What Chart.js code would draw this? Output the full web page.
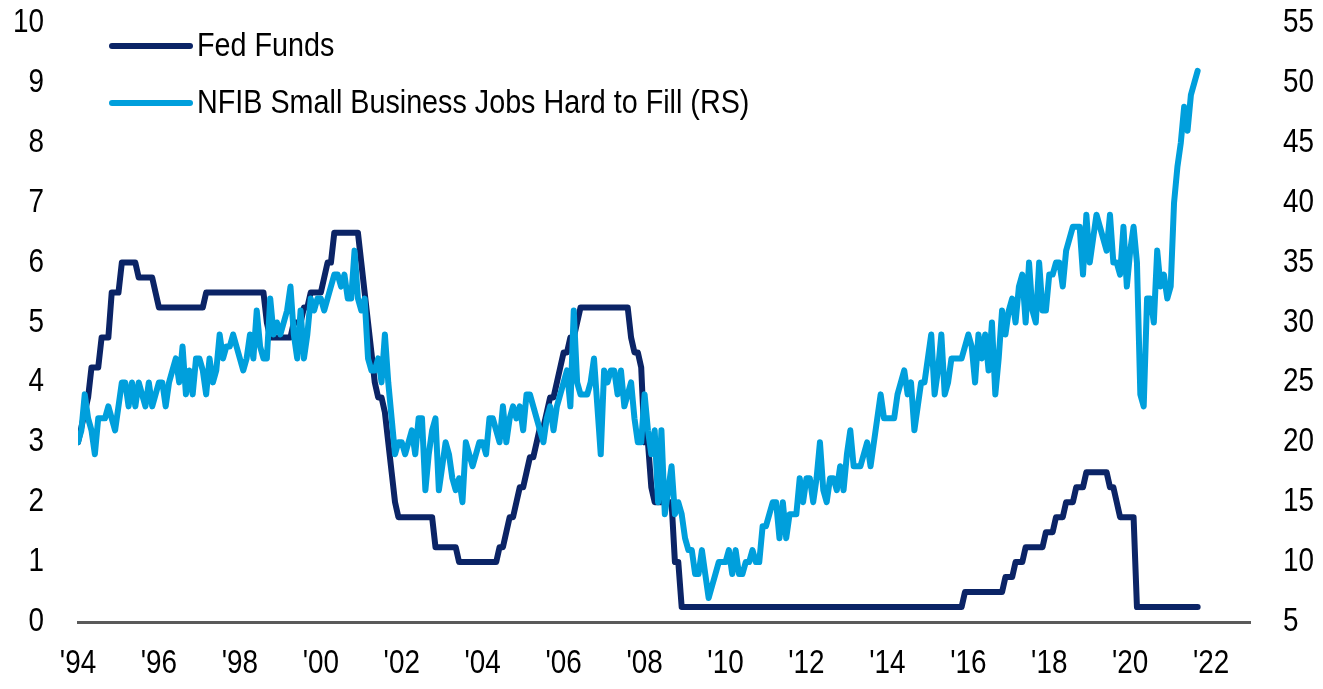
<!DOCTYPE html>
<html><head><meta charset="utf-8">
<script src="https://cdn.jsdelivr.net/npm/chart.js@4.4.1/dist/chart.umd.min.js"></script>
<style>html,body{margin:0;padding:0;background:#fff;}canvas{display:block;}</style>
</head><body>
<canvas id="c" width="1323" height="689"></canvas>
<script>
// ---- data (monthly, Jan 1994 .. Sep 2021) ----
const startYear = 1994;
const tickYears = [1994,1996,1998,2000,2002,2004,2006,2008,2010,2012,2014,2016,2018,2020,2022];
const leftTicks = [0,1,2,3,4,5,6,7,8,9,10];
const rightTicks = [5,10,15,20,25,30,35,40,45,50,55];
const seriesLabels = ['Fed Funds', 'NFIB Small Business Jobs Hard to Fill (RS)'];

const fedFunds = [
 3.00,3.25,3.50,3.75,4.25,4.25,4.25,4.75,4.75,4.75,5.50,5.50, // 1994
 5.50,6.00,6.00,6.00,6.00,6.00,5.75,5.75,5.75,5.75,5.75,5.50, // 1995
 5.25,5.25,5.25,5.25,5.25,5.25,5.25,5.25,5.25,5.25,5.25,5.25, // 1996
 5.25,5.25,5.50,5.50,5.50,5.50,5.50,5.50,5.50,5.50,5.50,5.50, // 1997
 5.50,5.50,5.50,5.50,5.50,5.50,5.50,5.50,5.00,4.75,4.75,4.75, // 1998
 4.75,4.75,4.75,4.75,5.00,5.00,5.00,5.25,5.25,5.50,5.50,5.50, // 1999
 5.50,5.75,6.00,6.00,6.50,6.50,6.50,6.50,6.50,6.50,6.50,6.50, // 2000
 6.00,5.50,5.00,4.50,4.00,3.75,3.75,3.50,3.00,2.50,2.00,1.75, // 2001
 1.75,1.75,1.75,1.75,1.75,1.75,1.75,1.75,1.75,1.75,1.25,1.25, // 2002
 1.25,1.25,1.25,1.25,1.25,1.00,1.00,1.00,1.00,1.00,1.00,1.00, // 2003
 1.00,1.00,1.00,1.00,1.00,1.25,1.25,1.50,1.75,1.75,2.00,2.25, // 2004
 2.25,2.50,2.75,2.75,3.00,3.25,3.25,3.50,3.75,3.75,4.00,4.25, // 2005
 4.50,4.50,4.75,4.75,5.00,5.25,5.25,5.25,5.25,5.25,5.25,5.25, // 2006
 5.25,5.25,5.25,5.25,5.25,5.25,5.25,5.25,4.75,4.50,4.50,4.25, // 2007
 3.00,3.00,2.25,2.00,2.00,2.00,2.00,2.00,2.00,1.00,1.00,0.25, // 2008
 0.25,0.25,0.25,0.25,0.25,0.25,0.25,0.25,0.25,0.25,0.25,0.25, // 2009
 0.25,0.25,0.25,0.25,0.25,0.25,0.25,0.25,0.25,0.25,0.25,0.25, // 2010
 0.25,0.25,0.25,0.25,0.25,0.25,0.25,0.25,0.25,0.25,0.25,0.25, // 2011
 0.25,0.25,0.25,0.25,0.25,0.25,0.25,0.25,0.25,0.25,0.25,0.25, // 2012
 0.25,0.25,0.25,0.25,0.25,0.25,0.25,0.25,0.25,0.25,0.25,0.25, // 2013
 0.25,0.25,0.25,0.25,0.25,0.25,0.25,0.25,0.25,0.25,0.25,0.25, // 2014
 0.25,0.25,0.25,0.25,0.25,0.25,0.25,0.25,0.25,0.25,0.25,0.50, // 2015
 0.50,0.50,0.50,0.50,0.50,0.50,0.50,0.50,0.50,0.50,0.50,0.75, // 2016
 0.75,0.75,1.00,1.00,1.00,1.25,1.25,1.25,1.25,1.25,1.25,1.50, // 2017
 1.50,1.50,1.75,1.75,1.75,2.00,2.00,2.00,2.25,2.25,2.25,2.50, // 2018
 2.50,2.50,2.50,2.50,2.50,2.50,2.25,2.25,2.00,1.75,1.75,1.75, // 2019
 1.75,1.75,0.25,0.25,0.25,0.25,0.25,0.25,0.25,0.25,0.25,0.25, // 2020
 0.25,0.25,0.25,0.25,0.25,0.25,0.25,0.25,0.25                 // 2021
];

const nfibHardToFill = [
 20,21,24,22,21,19,22,22,22,23,22,21, // 1994
 23,25,25,23,25,23,25,24,23,25,23,24, // 1995
 25,25,23,25,26,27,25,28,24,26,24,27, // 1996
 27,26,24,27,25,26,29,27,28,28,29,28, // 1997
 27,26,27,29,27,31,28,27,27,32,29,30, // 1998
 29,30,31,33,29,27,31,27,29,32,31,32, // 1999
 32,31,32,33,34,34,33,34,32,32,36,32, // 2000
 31,32,27,26,26,27,25,29,25,22,19,20, // 2001
 20,19,20,21,19,22,22,16,19,21,22,16, // 2002
 18,20,19,17,16,17,15,20,19,18,19,20, // 2003
 20,19,22,22,21,20,23,20,22,23,22,23, // 2004
 21,24,24,23,22,21,20,22,23,21,23,24, // 2005
 25,26,23,31,25,24,24,24,25,27,23,19, // 2006
 26,25,26,26,24,26,23,24,25,22,20,20, // 2007
 24,21,19,21,15,21,14,16,18,14,15,14, // 2008
 12,11,11,9,9,11,9,7,8,9,10,10,       // 2009
 10,11,9,11,9,9,10,10,11,10,10,13,    // 2010
 13,14,15,15,12,15,12,14,14,14,17,15, // 2011
 17,17,15,17,20,16,15,17,17,16,18,16, // 2012
 19,21,18,18,18,19,20,18,20,22,24,22, // 2013
 22,22,22,24,25,26,24,25,21,23,25,25, // 2014
 27,29,24,26,29,24,25,27,27,27,27,28, // 2015
 29,28,25,29,27,29,26,30,24,27,31,29, // 2016
 31,32,30,33,34,30,35,31,30,35,31,31, // 2017
 34,34,35,35,33,36,37,38,38,38,34,39, // 2018
 35,37,39,38,37,36,39,35,35,34,38,33, // 2019
 36,38,35,24,23,32,32,30,36,33,34,32, // 2020
 33,40,43,45,48,46,49,50,51           // 2021
];

// ---- styling ----
const FONT = '"Liberation Sans Narrow", "Arial Narrow", "Liberation Sans", Arial, sans-serif';
const NARROW = 0.845;   // horizontal text compression (Arial Narrow look)
const NAVY = '#0b2466';
const SKY = '#009fdc';

const toPoints = arr => arr.map((v, i) => ({ x: startYear + i / 12, y: v }));

const narrowText = {
  id: 'narrowText',
  beforeDraw(chart) {
    const ctx = chart.ctx;
    if (ctx.__origFillText) return;
    ctx.__origFillText = ctx.fillText;
    ctx.fillText = function (t, x, y) {
      this.save();
      this.translate(x, y);
      this.scale(NARROW, 1);
      this.__origFillText(t, 0, 0);
      this.restore();
    };
  }
};

const insideLegend = {
  id: 'insideLegend',
  afterDatasetsDraw(chart) {
    const ctx = chart.ctx;
    const rows = [ { ds: 0, y: 46 }, { ds: 1, y: 103 } ];
    ctx.save();
    rows.forEach(r => {
      const d = chart.data.datasets[r.ds];
      ctx.strokeStyle = d.borderColor;
      ctx.lineWidth = d.borderWidth;
      ctx.lineCap = 'round';
      ctx.beginPath();
      ctx.moveTo(112, r.y);
      ctx.lineTo(190, r.y);
      ctx.stroke();
      ctx.fillStyle = '#000';
      ctx.font = '34px ' + FONT;
      ctx.textBaseline = 'middle';
      ctx.textAlign = 'left';
      ctx.fillText(d.label, 197, r.y + 1);
    });
    ctx.restore();
  }
};

const zeroPad = s => { s.paddingTop = 0; s.paddingBottom = 0; s.paddingLeft = 0; s.paddingRight = 0; };

new Chart(document.getElementById('c'), {
  type: 'line',
  data: {
    datasets: [
      { label: seriesLabels[0], data: toPoints(fedFunds), yAxisID: 'y', borderColor: NAVY,
        backgroundColor: NAVY, borderWidth: 6, pointRadius: 0, tension: 0,
        borderJoinStyle: 'round', borderCapStyle: 'round', order: 2 },
      { label: seriesLabels[1], data: toPoints(nfibHardToFill), yAxisID: 'y2', borderColor: SKY,
        backgroundColor: SKY, borderWidth: 6, pointRadius: 0, tension: 0,
        borderJoinStyle: 'round', borderCapStyle: 'round', order: 1 }
    ]
  },
  options: {
    responsive: false,
    animation: false,
    layout: { padding: { top: 23, left: 0, right: 0, bottom: 0 } },
    plugins: { legend: { display: false }, tooltip: { enabled: false } },
    scales: {
      x: {
        type: 'linear', position: 'bottom', min: 1994, max: 2022.96,
        grid: { display: false, drawTicks: false },
        border: { display: true, color: '#5a5a5a', width: 3 },
        afterBuildTicks: s => { s.ticks = tickYears.map(v => ({ value: v })); },
        afterFit: s => { s.height = 67; zeroPad(s); },
        ticks: {
          maxRotation: 0, autoSkip: false, padding: 22, color: '#000',
          font: { family: FONT, size: 33 },
          callback: v => "'" + String(v).slice(2)
        }
      },
      y: {
        position: 'left', min: 0, max: 10,
        grid: { display: false, drawTicks: false },
        border: { display: false },
        afterBuildTicks: s => { s.ticks = leftTicks.map(v => ({ value: v })); },
        afterFit: s => { s.width = 78; zeroPad(s); },
        ticks: { padding: 34, color: '#000', font: { family: FONT, size: 33 } }
      },
      y2: {
        position: 'right', min: 5, max: 55,
        grid: { display: false, drawTicks: false },
        border: { display: false },
        afterBuildTicks: s => { s.ticks = rightTicks.map(v => ({ value: v })); },
        afterFit: s => { s.width = 73; zeroPad(s); },
        ticks: { padding: 33, color: '#000', font: { family: FONT, size: 33 } }
      }
    }
  },
  plugins: [narrowText, insideLegend]
});
</script>
</body></html>
